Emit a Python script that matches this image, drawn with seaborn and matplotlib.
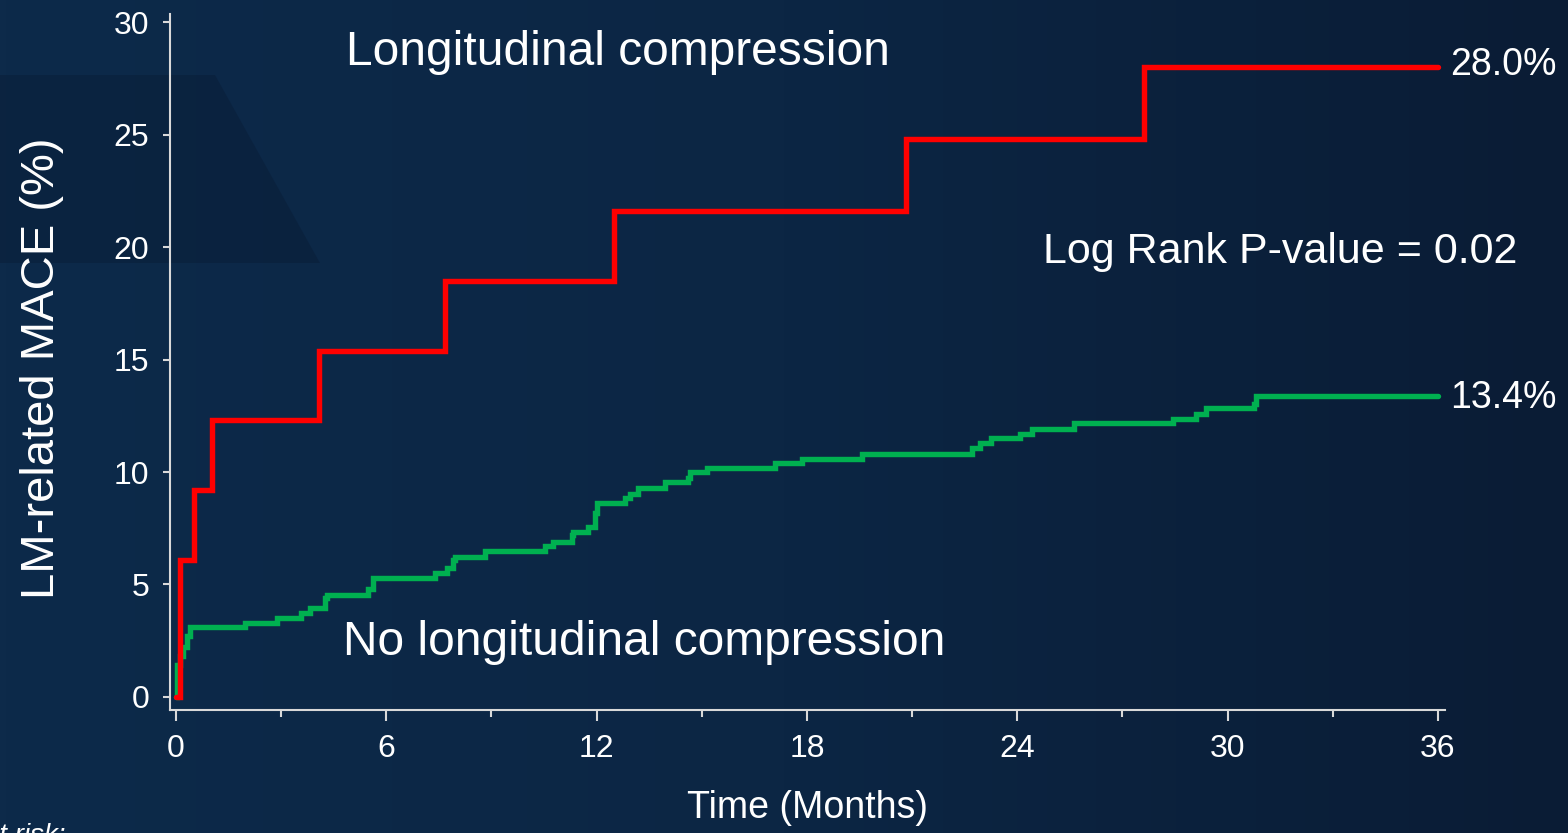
import numpy as np
import pandas as pd
import matplotlib.pyplot as plt
from matplotlib.colors import LinearSegmentedColormap
from matplotlib.patches import Polygon
import seaborn as sns

# ── data ──────────────────────────────────────────────────────
comp_label = "Longitudinal compression"
nocomp_label = "No longitudinal compression"

comp_time = [0, 0.12, 0.5, 1.04, 4.08, 7.67, 12.49, 20.82, 27.6, 36]
comp_pct = [0, 6.1, 9.2, 12.3, 15.4, 18.5, 21.6, 24.8, 28.0, 28.0]

nocomp_time = [0, 0.02, 0.11, 0.2, 0.3, 0.4, 1.97, 2.87, 3.58, 3.82, 4.25, 4.3,
               5.49, 5.63, 7.39, 7.72, 7.91, 7.96, 8.81, 10.52, 10.76, 11.29,
               11.33, 11.76, 11.95, 12.0, 12.81, 12.95, 13.19, 13.95, 14.61,
               14.66, 15.14, 17.09, 17.85, 19.56, 22.72, 22.94, 23.26, 24.08,
               24.41, 25.61, 28.45, 29.1, 29.38, 30.74, 30.8, 36]
nocomp_pct = [0, 1.4, 1.8, 2.2, 2.7, 3.1, 3.27, 3.5, 3.75, 3.94, 4.39, 4.55,
              4.79, 5.3, 5.5, 5.72, 6.09, 6.24, 6.49, 6.73, 6.9, 7.2,
              7.35, 7.57, 8.16, 8.6, 8.83, 9.02, 9.27, 9.57, 9.75,
              9.99, 10.16, 10.39, 10.58, 10.81, 11.05, 11.27, 11.5, 11.67,
              11.92, 12.16, 12.36, 12.59, 12.84, 13.04, 13.4, 13.4]

x_ticks = [0, 6, 12, 18, 24, 30, 36]
x_minor = [3, 9, 15, 21, 27, 33]
y_ticks = [0, 5, 10, 15, 20, 25, 30]

df = pd.concat([
    pd.DataFrame({"time": nocomp_time, "pct": nocomp_pct, "group": nocomp_label}),
    pd.DataFrame({"time": comp_time, "pct": comp_pct, "group": comp_label}),
], ignore_index=True)

# ── style ─────────────────────────────────────────────────────
sns.set_theme(style="ticks")
plt.rcParams["font.family"] = ["Liberation Sans", "DejaVu Sans"]

white = "#ffffff"
spine_col = "#d9d9d9"
palette = {comp_label: "#ff0000", nocomp_label: "#00b050"}

W, H = 1568, 833
fig = plt.figure(figsize=(W / 100, H / 100), dpi=100)

# background: dark navy slide with a faint shape top-left
bg = fig.add_axes([0, 0, 1, 1], zorder=-10)
cmap = LinearSegmentedColormap.from_list("bg", ["#0d2a4a", "#0c2644", "#0a1c35"])
bg.imshow(np.linspace(0, 1, 256)[None, :], aspect="auto", cmap=cmap,
          extent=[0, W, H, 0])
bg.add_patch(Polygon([(0, 75), (215, 75), (320, 263), (0, 263)], closed=True,
                     color="#081830", alpha=0.35, lw=0))
bg.set_xlim(0, W)
bg.set_ylim(H, 0)
bg.axis("off")

ax = fig.add_axes([170 / W, 123 / H, 1275 / W, 696 / H])
ax.set_facecolor("none")

sns.lineplot(data=df, x="time", y="pct", hue="group",
             hue_order=[nocomp_label, comp_label], palette=palette,
             estimator=None, sort=False, drawstyle="steps-post",
             linewidth=3.9, solid_capstyle="round", solid_joinstyle="miter",
             legend=False, ax=ax)

ax.set_xlim(-0.171, 36.2)
ax.set_ylim(-0.58, 30.36)
ax.set_xticks(x_ticks)
ax.set_xticks(x_minor, minor=True)
ax.set_yticks(y_ticks)

for side in ["top", "right"]:
    ax.spines[side].set_visible(False)
for side in ["left", "bottom"]:
    ax.spines[side].set_color(spine_col)
    ax.spines[side].set_linewidth(1.5)

ax.tick_params(axis="y", direction="out", length=5, width=1.5, color=spine_col,
               labelcolor=white, labelsize=23, pad=10)
ax.tick_params(axis="x", which="major", direction="out", length=8, width=1.5,
               color=spine_col, labelcolor=white, labelsize=23, pad=9)
ax.tick_params(axis="x", which="minor", direction="out", length=5, width=1.5,
               color=spine_col)
# the zero ticks are black in the original
ax.xaxis.get_major_ticks()[0].tick1line.set_color("black")
ax.yaxis.get_major_ticks()[0].tick1line.set_color("black")

ax.set_xlabel("Time (Months)", fontsize=27, color=white)
ax.set_ylabel("LM-related MACE (%)", fontsize=34, color=white)
ax.xaxis.set_label_coords(0.5, -0.1408)
ax.xaxis.label.set_va("center")
ax.yaxis.set_label_coords(-0.1004, 0.4907)
ax.yaxis.label.set_va("center")

# annotations
ax.text(4.85, 28.1, comp_label, fontsize=34.5, color=white, va="baseline")
ax.text(4.76, 1.87, nocomp_label, fontsize=34.5, color=white, va="baseline")
ax.text(24.73, 19.29, "Log Rank P-value = 0.02", fontsize=31, color=white,
        va="baseline")
ax.text(36.34, 27.64, f"{comp_pct[-1]:.1f}%", fontsize=27, color=white,
        va="baseline", clip_on=False)
ax.text(36.34, 12.84, f"{nocomp_pct[-1]:.1f}%", fontsize=27, color=white,
        va="baseline", clip_on=False)

# cut-off table header at the bottom edge (cut off in the original too)
fig.text(66 / W, (H - 823) / H, "Patients at risk:", fontsize=20, color=white,
         style="italic", ha="right", va="top")

fig.savefig("out.png", dpi=100)
